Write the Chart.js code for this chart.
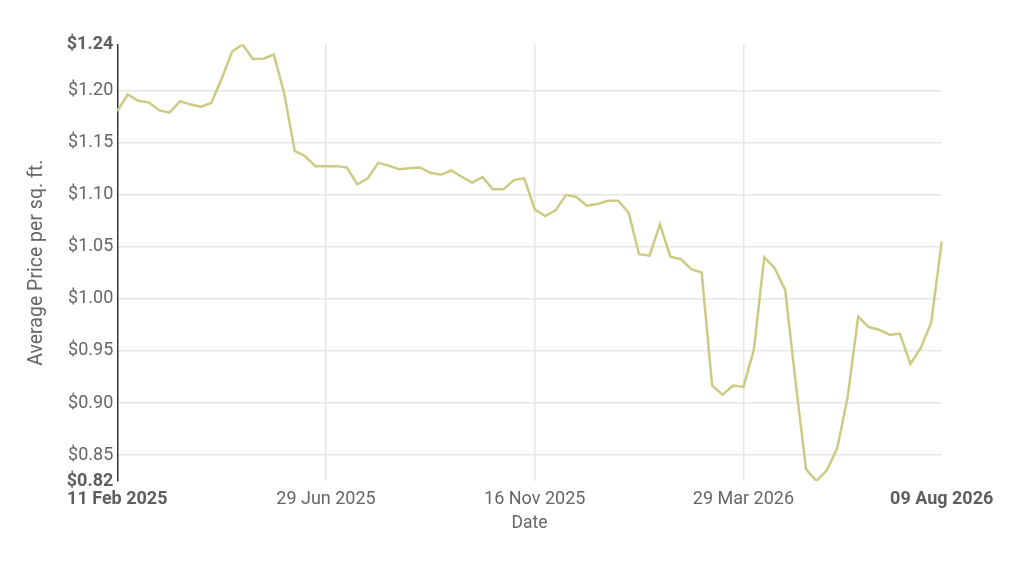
<!DOCTYPE html>
<html>
<head>
<meta charset="utf-8">
<script src="https://cdn.jsdelivr.net/npm/chart.js@4.4.1/dist/chart.umd.min.js"></script>
<style>
  html, body { margin: 0; padding: 0; background: #fff; }
  #wrap { width: 1024px; height: 562px; position: relative; }
</style>
</head>
<body>
<div id="wrap"><canvas id="priceChart"></canvas></div>
<script>
// weekly dates (category axis)
const dates = [
  '11 Feb 2025', '16 Feb 2025', '23 Feb 2025', '02 Mar 2025', '09 Mar 2025', '16 Mar 2025', '23 Mar 2025', '30 Mar 2025',
  '06 Apr 2025', '13 Apr 2025', '20 Apr 2025', '27 Apr 2025', '04 May 2025', '11 May 2025', '18 May 2025', '25 May 2025',
  '01 Jun 2025', '08 Jun 2025', '15 Jun 2025', '22 Jun 2025', '29 Jun 2025', '06 Jul 2025', '13 Jul 2025', '20 Jul 2025',
  '27 Jul 2025', '03 Aug 2025', '10 Aug 2025', '17 Aug 2025', '24 Aug 2025', '31 Aug 2025', '07 Sep 2025', '14 Sep 2025',
  '21 Sep 2025', '28 Sep 2025', '05 Oct 2025', '12 Oct 2025', '19 Oct 2025', '26 Oct 2025', '02 Nov 2025', '09 Nov 2025',
  '16 Nov 2025', '23 Nov 2025', '30 Nov 2025', '07 Dec 2025', '14 Dec 2025', '21 Dec 2025', '28 Dec 2025', '01 Jan 2026',
  '04 Jan 2026', '11 Jan 2026', '18 Jan 2026', '25 Jan 2026', '01 Feb 2026', '08 Feb 2026', '15 Feb 2026', '22 Feb 2026',
  '01 Mar 2026', '08 Mar 2026', '15 Mar 2026', '22 Mar 2026', '29 Mar 2026', '05 Apr 2026', '12 Apr 2026', '19 Apr 2026',
  '26 Apr 2026', '03 May 2026', '10 May 2026', '17 May 2026', '24 May 2026', '31 May 2026', '07 Jun 2026', '14 Jun 2026',
  '21 Jun 2026', '28 Jun 2026', '05 Jul 2026', '12 Jul 2026', '19 Jul 2026', '26 Jul 2026', '02 Aug 2026', '09 Aug 2026'
];

const avgPrice = [
  1.180, 1.196, 1.190, 1.1885, 1.181, 1.1786, 1.1895, 1.1866, 1.184, 1.1879,
  1.2112, 1.2373, 1.244, 1.230, 1.2303, 1.2344, 1.197, 1.1419, 1.1368, 1.1273,
  1.1273, 1.1273, 1.126, 1.1098, 1.1155, 1.1304, 1.1278, 1.1244, 1.1252, 1.126,
  1.1209, 1.119, 1.1231, 1.1171, 1.1116, 1.1167, 1.105, 1.105, 1.1139, 1.1155,
  1.0858, 1.0794, 1.0849, 1.0998, 1.0976, 1.0893, 1.0909, 1.0941, 1.0941, 1.0826,
  1.0428, 1.0415, 1.0715, 1.0405, 1.038, 1.0284, 1.0252, 0.9167, 0.9081, 0.9167,
  0.9155, 0.9512, 1.0399, 1.0294, 1.0086, 0.920, 0.8364, 0.8252, 0.8357, 0.8571,
  0.9065, 0.9831, 0.9729, 0.9703, 0.9656, 0.9665, 0.9375, 0.9528, 0.9773, 1.0548
];

const xTickIdx = [0, 20, 40, 60, 79];
const yTickVals = [0.85, 0.90, 0.95, 1.00, 1.05, 1.10, 1.15, 1.20];

const yMin = Math.min(...avgPrice);
const yMax = Math.max(...avgPrice);

const txt = '#666666';
const txtBold = '#5e5e5e';
const gridCol = '#e6e6e6';
const fam = 'Roboto, "Noto Sans", sans-serif';

function money(v) {
  return '$' + (Math.floor(v * 100 + 1e-6) / 100).toFixed(2);
}

const ctx = document.getElementById('priceChart').getContext('2d');
const priceChart = new Chart(ctx, {
  type: 'line',
  data: {
    labels: dates,
    datasets: [{
      label: 'Average Price per sq. ft.',
      data: avgPrice,
      borderColor: '#cbcb84',
      borderWidth: 2.5,
      pointRadius: 0,
      tension: 0,
      fill: false
    }]
  },
  options: {
    responsive: true,
    maintainAspectRatio: false,
    animation: false,
    layout: { padding: { top: 44.5, right: 82.3, bottom: 0, left: 0 } },
    plugins: {
      legend: { display: false },
      tooltip: { enabled: false }
    },
    scales: {
      x: {
        type: 'category',
        offset: false,
        afterBuildTicks: (scale) => {
          scale.ticks = xTickIdx.map(i => ({ value: i }));
        },
        afterFit: (scale) => { scale.height = 81; },
        border: { display: false },
        grid: {
          drawTicks: false,
          lineWidth: 1.5,
          color: (c) => (c.tick && (c.tick.value === 0 || c.tick.value === dates.length - 1)) ? 'rgba(0,0,0,0)' : gridCol
        },
        ticks: {
          autoSkip: false,
          maxRotation: 0,
          padding: 8,
          color: (c) => (c.index === 0 || c.index === xTickIdx.length - 1) ? txtBold : txt,
          font: (c) => ({
            family: fam,
            size: 18,
            weight: (c.index === 0 || c.index === xTickIdx.length - 1) ? 'bold' : 'normal'
          }),
          callback: function (v) { return this.getLabelForValue(v); }
        },
        title: {
          display: true,
          text: 'Date',
          color: txt,
          font: { family: fam, size: 17.5 },
          padding: { top: 0, bottom: 28 }
        }
      },
      y: {
        min: yMin,
        max: yMax,
        afterBuildTicks: (scale) => {
          scale.ticks = [yMin, ...yTickVals, yMax].map(v => ({ value: v }));
        },
        afterFit: (scale) => { scale.width = 117.3; },
        border: { display: true, color: '#333333', width: 1.5 },
        grid: {
          drawTicks: false,
          lineWidth: 1.5,
          color: (c) => (c.tick && (c.tick.value === yMin || c.tick.value === yMax)) ? 'rgba(0,0,0,0)' : gridCol
        },
        ticks: {
          padding: 4,
          color: (c) => (c.tick && (c.tick.value === yMin || c.tick.value === yMax)) ? txtBold : txt,
          font: (c) => ({
            family: fam,
            size: 18,
            weight: (c.tick && (c.tick.value === yMin || c.tick.value === yMax)) ? 'bold' : 'normal'
          }),
          callback: (v) => money(v)
        },
        title: {
          display: true,
          text: 'Average Price per sq. ft.',
          color: txt,
          font: { family: fam, size: 19.5 },
          padding: { top: 25, bottom: 0 }
        }
      }
    }
  }
});
</script>
</body>
</html>
